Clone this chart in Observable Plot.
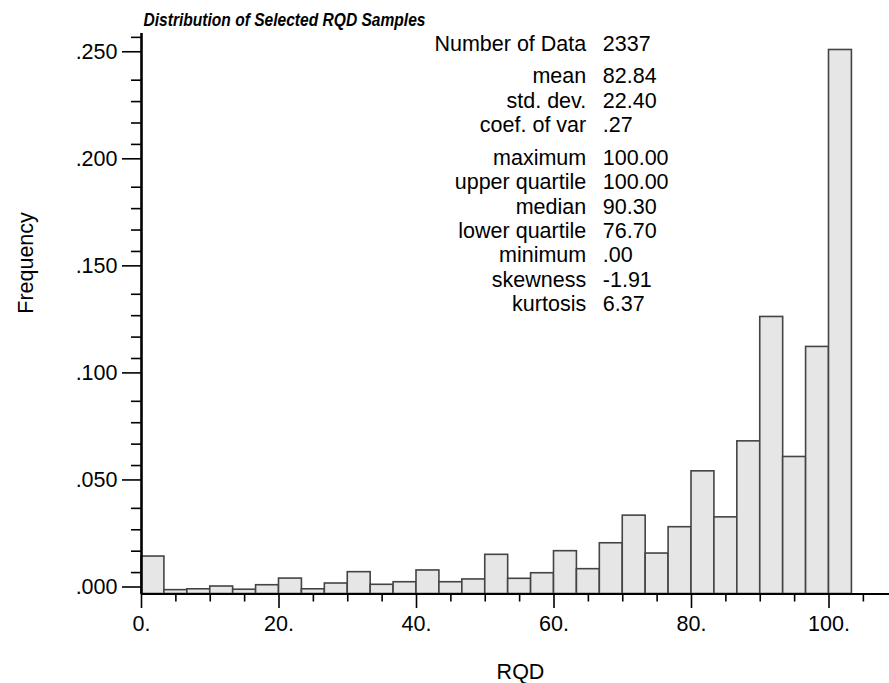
<!DOCTYPE html>
<html><head><meta charset="utf-8">
<script src="https://cdn.jsdelivr.net/npm/d3@7"></script>
<script src="https://cdn.jsdelivr.net/npm/@observablehq/plot@0.6"></script>
<style>
html,body{margin:0;padding:0;background:#fff;}
#chart svg{display:block;}
</style></head><body><div id="chart"></div>
<script>
// ---- data ----
const binWidth = 100 / 30;               // RQD class width
const frequencies = [0.0175,0.0018,0.0022,0.0035,0.0020,0.0041,0.0072,0.0022,0.0049,0.0102,
                     0.0043,0.0055,0.0110,0.0055,0.0068,0.0183,0.0071,0.0097,0.0200,0.0116,
                     0.0237,0.0366,0.0189,0.0312,0.0573,0.0358,0.0713,0.1294,0.0640,0.1154,0.2541];
const statLabels = ["Number of Data","mean","std. dev.","coef. of var","maximum","upper quartile","median","lower quartile","minimum","skewness","kurtosis"];
const statValues = ["2337","82.84","22.40",".27","100.00","100.00","90.30","76.70",".00","-1.91","6.37"];
const statGroup  = [0,1,1,1,2,2,2,2,2,2,2];
const yMajorTicks = [0, 0.05, 0.10, 0.15, 0.20, 0.25];
const yMinorTicks = [0.01,0.02,0.03,0.04,0.06,0.07,0.08,0.09,0.11,0.12,0.13,0.14,0.16,0.17,0.18,0.19,0.21,0.22,0.23,0.24,0.26];
const xMajorTicks = [0, 20, 40, 60, 80, 100];
const xMinorTicks = [5,10,15,25,30,35,45,50,55,65,70,75,85,90,95,105];
const titleText = "Distribution of Selected RQD Samples";
const xLabel = "RQD";
const yLabel = "Frequency";

// ---- layout ----
const W = 889, H = 683;
const mTop = 33, mLeft = 141, mBottom = 89.5, mRight = 0;
const xMax = 108.8, yMax = 0.2618;
const font = "'Liberation Sans', Arial, Helvetica, sans-serif";

const bins = frequencies.map((f, i) => ({x1: i * binWidth, x2: (i + 1) * binWidth, f}));

const rowY = (i) => 50 + i * 24.4 + statGroup[i] * 8.3;
const statMarks = [];
statLabels.forEach((s, i) => {
  statMarks.push(Plot.text([s], {frameAnchor: "top-left", textAnchor: "end", lineAnchor: "bottom",
    dx: 585.7 - mLeft, dy: rowY(i) - mTop, fill: "black"}));
  statMarks.push(Plot.text([statValues[i]], {frameAnchor: "top-left", textAnchor: "start", lineAnchor: "bottom",
    dx: 602.3 - mLeft, dy: rowY(i) - mTop, fill: "black"}));
});

const chart = Plot.plot({
  width: W, height: H,
  marginTop: mTop, marginLeft: mLeft, marginBottom: mBottom, marginRight: mRight,
  style: {fontFamily: font, fontSize: "21.5px", color: "black", background: "white", overflow: "visible"},
  x: {domain: [0, xMax]},
  y: {domain: [0, yMax]},
  marks: [
    Plot.rect(bins, {x1: "x1", x2: "x2", y1: 0, y2: "f", fill: "#e6e6e6", stroke: "#444", strokeWidth: 1.6}),
    Plot.axisY({ticks: yMinorTicks, tickSize: 10, tickFormat: () => "", label: null, strokeWidth: 1.6}),
    Plot.axisY({ticks: yMajorTicks, tickSize: 19, tickPadding: 5, label: null, strokeWidth: 1.6,
      tickFormat: d => d3.format(".3f")(d).slice(1), dy: -7}),
    Plot.axisX({ticks: xMinorTicks, tickSize: 8, tickFormat: () => "", label: null, strokeWidth: 1.6}),
    Plot.axisX({ticks: xMajorTicks, tickSize: 14.5, tickPadding: 7, label: null, strokeWidth: 1.6,
      tickFormat: d => d + "."}),
    Plot.ruleX([0], {y1: 0, y2: yMax, strokeWidth: 2.6, stroke: "black"}),
    Plot.ruleY([0], {x1: 0, x2: xMax, strokeWidth: 2, stroke: "black"}),
    Plot.text([titleText], {frameAnchor: "top-left", textAnchor: "start", lineAnchor: "bottom",
      dx: 2, dy: -8, fontWeight: "bold", fontStyle: "italic", fontSize: 18.5, fill: "black"}),
    Plot.text([yLabel], {frameAnchor: "left", rotate: -90, lineAnchor: "bottom", dx: 32 - mLeft, fill: "black"}),
    Plot.text([xLabel], {frameAnchor: "bottom", lineAnchor: "bottom", dx: 5, dy: 678 - (H - mBottom), fill: "black"}),
    ...statMarks
  ]
});
// compress the title to the reference's narrow face
d3.select(chart).selectAll("text")
  .filter(function () { return this.textContent === titleText; })
  .attr("textLength", 282).attr("lengthAdjust", "spacingAndGlyphs");
document.getElementById("chart").appendChild(chart);
</script>
</body></html>
